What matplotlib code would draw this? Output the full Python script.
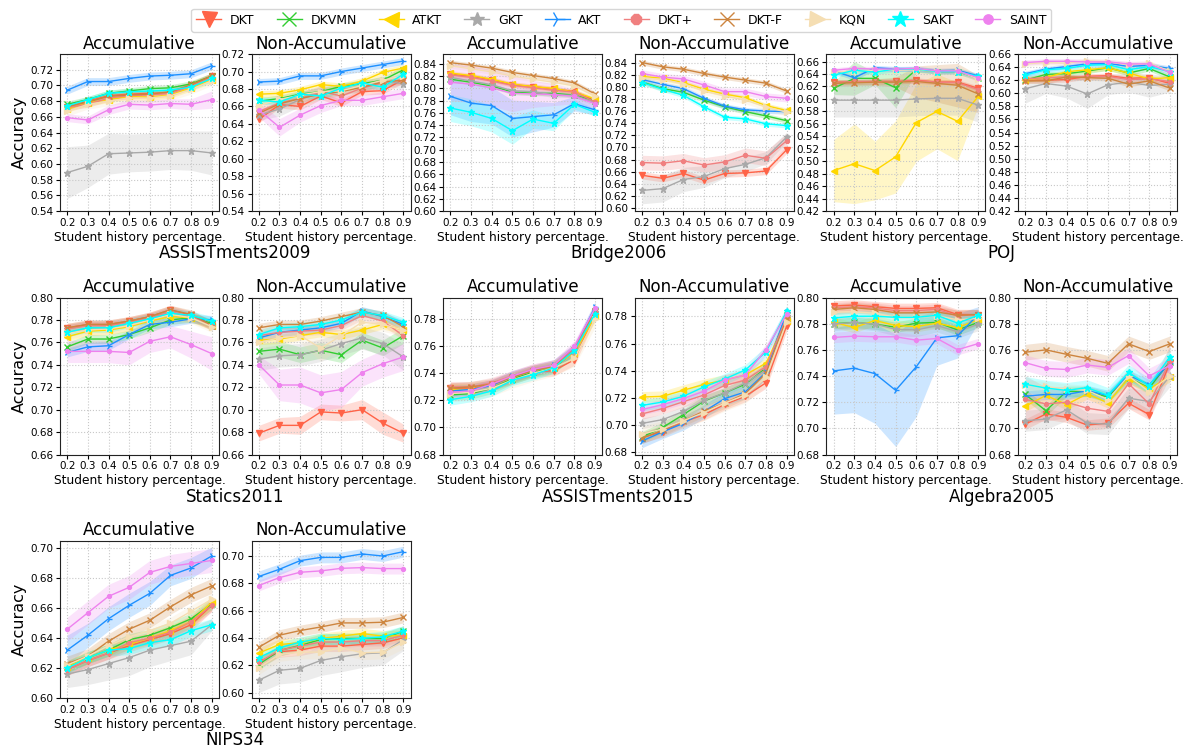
import matplotlib
matplotlib.use("Agg")
import numpy as np
import matplotlib.pyplot as plt

X = [0.2, 0.3, 0.4, 0.5, 0.6, 0.7, 0.8, 0.9]
MODELS = ["DKT", "DKVMN", "ATKT", "GKT", "AKT", "DKT+", "DKT-F", "KQN", "SAKT", "SAINT"]
COLORS = {
    "DKT": "tomato", "DKVMN": "limegreen", "ATKT": "gold", "GKT": "darkgray",
    "AKT": "dodgerblue", "DKT+": "lightcoral", "DKT-F": "peru", "KQN": "wheat",
    "SAKT": "cyan", "SAINT": "violet",
}
MARKERS = {
    "DKT": "v", "DKVMN": "x", "ATKT": "<", "GKT": "*", "AKT": "4",
    "DKT+": "8", "DKT-F": "x", "KQN": ">", "SAKT": "*", "SAINT": "o",
}
MSIZE = {
    "DKT": 4.5, "DKVMN": 4, "ATKT": 4.5, "GKT": 4.5, "AKT": 5,
    "DKT+": 3, "DKT-F": 4, "KQN": 4.5, "SAKT": 5, "SAINT": 2.8,
}

# ---- ASSISTments2009 ----
a09_acc = {
    "DKT":   [0.673, 0.680, 0.687, 0.689, 0.690, 0.691, 0.700, 0.712],
    "DKVMN": [0.676, 0.682, 0.690, 0.693, 0.696, 0.697, 0.702, 0.712],
    "ATKT":  [0.670, 0.678, 0.682, 0.686, 0.685, 0.688, 0.697, 0.707],
    "GKT":   [0.589, 0.597, 0.613, 0.614, 0.615, 0.617, 0.617, 0.614],
    "AKT":   [0.694, 0.705, 0.705, 0.709, 0.712, 0.713, 0.715, 0.725],
    "DKT+":  [0.672, 0.676, 0.684, 0.687, 0.688, 0.690, 0.699, 0.711],
    "DKT-F": [0.673, 0.679, 0.686, 0.688, 0.689, 0.692, 0.701, 0.712],
    "KQN":   [0.667, 0.676, 0.680, 0.684, 0.684, 0.687, 0.695, 0.706],
    "SAKT":  [0.674, 0.682, 0.690, 0.692, 0.693, 0.694, 0.698, 0.709],
    "SAINT": [0.659, 0.656, 0.669, 0.676, 0.675, 0.677, 0.676, 0.682],
}
a09_acc_std = {
    "GKT": [0.033, 0.027, 0.026, 0.024, 0.024, 0.024, 0.025, 0.028],
    "SAINT": [0.005, 0.005, 0.006, 0.006, 0.006, 0.006, 0.007, 0.011],
    "AKT": 0.005, "KQN": 0.006,
}
a09_non = {
    "DKT":   [0.645, 0.662, 0.660, 0.672, 0.664, 0.677, 0.678, 0.691],
    "DKVMN": [0.666, 0.669, 0.674, 0.677, 0.683, 0.686, 0.690, 0.702],
    "ATKT":  [0.674, 0.675, 0.679, 0.685, 0.683, 0.689, 0.699, 0.704],
    "GKT":   [0.650, 0.657, 0.668, 0.676, 0.679, 0.683, 0.689, 0.686],
    "AKT":   [0.688, 0.689, 0.695, 0.695, 0.700, 0.704, 0.708, 0.712],
    "DKT+":  [0.654, 0.664, 0.669, 0.677, 0.672, 0.681, 0.687, 0.691],
    "DKT-F": [0.652, 0.663, 0.669, 0.674, 0.677, 0.682, 0.688, 0.690],
    "KQN":   [0.661, 0.668, 0.673, 0.677, 0.678, 0.684, 0.690, 0.695],
    "SAKT":  [0.667, 0.665, 0.674, 0.672, 0.681, 0.687, 0.682, 0.697],
    "SAINT": [0.656, 0.636, 0.650, 0.661, 0.667, 0.667, 0.671, 0.675],
}
a09_non_std = {
    "SAINT": [0.008, 0.010, 0.008, 0.008, 0.006, 0.006, 0.006, 0.006],
    "GKT": [0.006, 0.008, 0.008, 0.008, 0.007, 0.006, 0.006, 0.006],
    "DKT+": 0.006,
}

# ---- Bridge2006 ----
bri_acc = {
    "DKT":   [0.823, 0.820, 0.814, 0.806, 0.803, 0.799, 0.795, 0.780],
    "DKVMN": [0.815, 0.810, 0.804, 0.794, 0.792, 0.792, 0.789, 0.780],
    "ATKT":  [0.825, 0.821, 0.815, 0.807, 0.803, 0.800, 0.794, 0.783],
    "GKT":   [0.818, 0.812, 0.806, 0.796, 0.795, 0.789, 0.789, 0.776],
    "AKT":   [0.787, 0.776, 0.772, 0.751, 0.754, 0.757, 0.775, 0.765],
    "DKT+":  [0.822, 0.818, 0.812, 0.805, 0.801, 0.797, 0.794, 0.778],
    "DKT-F": [0.842, 0.838, 0.833, 0.826, 0.821, 0.816, 0.809, 0.791],
    "KQN":   [0.837, 0.832, 0.827, 0.820, 0.815, 0.810, 0.804, 0.787],
    "SAKT":  [0.768, 0.761, 0.751, 0.731, 0.750, 0.743, 0.774, 0.761],
    "SAINT": [0.810, 0.807, 0.801, 0.792, 0.791, 0.790, 0.787, 0.775],
}
bri_acc_std = {
    "SAINT": [0.030, 0.030, 0.030, 0.030, 0.022, 0.018, 0.012, 0.008],
    "AKT": [0.030, 0.030, 0.030, 0.030, 0.025, 0.020, 0.012, 0.008],
    "SAKT": [0.022, 0.022, 0.022, 0.022, 0.015, 0.012, 0.008, 0.006],
}
bri_non = {
    "DKT":   [0.654, 0.649, 0.657, 0.646, 0.657, 0.658, 0.661, 0.696],
    "DKVMN": [0.808, 0.797, 0.791, 0.778, 0.767, 0.759, 0.752, 0.744],
    "ATKT":  [0.817, 0.814, 0.807, 0.796, 0.788, 0.782, 0.769, 0.761],
    "GKT":   [0.629, 0.632, 0.647, 0.652, 0.665, 0.672, 0.683, 0.717],
    "AKT":   [0.812, 0.804, 0.797, 0.781, 0.768, 0.762, 0.760, 0.759],
    "DKT+":  [0.675, 0.674, 0.678, 0.671, 0.676, 0.687, 0.682, 0.711],
    "DKT-F": [0.840, 0.833, 0.829, 0.822, 0.816, 0.811, 0.806, 0.793],
    "KQN":   [0.815, 0.812, 0.805, 0.793, 0.785, 0.778, 0.767, 0.758],
    "SAKT":  [0.807, 0.796, 0.786, 0.767, 0.750, 0.747, 0.739, 0.736],
    "SAINT": [0.822, 0.816, 0.813, 0.803, 0.792, 0.792, 0.784, 0.781],
}
bri_non_std = {
    "DKT+": 0.012, "DKT": 0.006, "KQN": 0.006, "SAINT": 0.006,
    "GKT": [0.022, 0.022, 0.020, 0.018, 0.015, 0.012, 0.010, 0.008],
}

# ---- POJ ----
poj_acc = {
    "DKT":   [0.627, 0.627, 0.628, 0.628, 0.630, 0.627, 0.627, 0.617],
    "DKVMN": [0.617, 0.633, 0.633, 0.618, 0.647, 0.644, 0.644, 0.633],
    "ATKT":  [0.485, 0.496, 0.485, 0.507, 0.562, 0.580, 0.564, 0.604],
    "GKT":   [0.598, 0.598, 0.598, 0.598, 0.600, 0.601, 0.601, 0.590],
    "AKT":   [0.645, 0.634, 0.650, 0.648, 0.648, 0.645, 0.646, 0.637],
    "DKT+":  [0.626, 0.628, 0.628, 0.628, 0.629, 0.627, 0.626, 0.615],
    "DKT-F": [0.625, 0.626, 0.627, 0.627, 0.628, 0.625, 0.622, 0.608],
    "KQN":   [0.643, 0.645, 0.646, 0.646, 0.647, 0.644, 0.645, 0.632],
    "SAKT":  [0.638, 0.646, 0.643, 0.648, 0.648, 0.644, 0.644, 0.636],
    "SAINT": [0.646, 0.649, 0.648, 0.648, 0.649, 0.645, 0.645, 0.634],
}
poj_acc_std = {
    "ATKT": [0.050, 0.064, 0.047, 0.058, 0.062, 0.060, 0.063, 0.015],
    "GKT": 0.027,
    "DKVMN": [0.010, 0.027, 0.010, 0.032, 0.004, 0.004, 0.004, 0.004],
    "DKT-F": [0.005, 0.005, 0.005, 0.008, 0.025, 0.030, 0.035, 0.030],
}
poj_non = {
    "DKT":   [0.620, 0.620, 0.621, 0.626, 0.627, 0.623, 0.624, 0.615],
    "DKVMN": [0.620, 0.629, 0.630, 0.634, 0.639, 0.631, 0.638, 0.625],
    "ATKT":  [0.621, 0.624, 0.633, 0.636, 0.639, 0.631, 0.622, 0.624],
    "GKT":   [0.607, 0.615, 0.611, 0.599, 0.613, 0.617, 0.612, 0.614],
    "AKT":   [0.630, 0.637, 0.641, 0.645, 0.646, 0.641, 0.643, 0.638],
    "DKT+":  [0.622, 0.624, 0.625, 0.625, 0.626, 0.621, 0.622, 0.618],
    "DKT-F": [0.619, 0.619, 0.625, 0.624, 0.623, 0.614, 0.619, 0.608],
    "KQN":   [0.645, 0.647, 0.646, 0.650, 0.648, 0.644, 0.646, 0.634],
    "SAKT":  [0.628, 0.636, 0.638, 0.643, 0.644, 0.636, 0.641, 0.633],
    "SAINT": [0.647, 0.649, 0.649, 0.648, 0.648, 0.645, 0.645, 0.632],
}
poj_non_std = {
    "GKT": [0.022, 0.015, 0.018, 0.022, 0.015, 0.015, 0.018, 0.012],
}

# ---- Statics2011 ----
sta_acc = {
    "DKT":   [0.773, 0.776, 0.776, 0.779, 0.783, 0.789, 0.784, 0.776],
    "DKVMN": [0.756, 0.763, 0.763, 0.767, 0.773, 0.780, 0.782, 0.777],
    "ATKT":  [0.765, 0.770, 0.771, 0.774, 0.779, 0.783, 0.782, 0.775],
    "GKT":   [0.772, 0.775, 0.775, 0.778, 0.782, 0.788, 0.783, 0.775],
    "AKT":   [0.751, 0.756, 0.757, 0.767, 0.776, 0.778, 0.781, 0.780],
    "DKT+":  [0.772, 0.775, 0.775, 0.778, 0.782, 0.787, 0.783, 0.775],
    "DKT-F": [0.773, 0.776, 0.776, 0.779, 0.783, 0.789, 0.785, 0.775],
    "KQN":   [0.768, 0.771, 0.772, 0.775, 0.780, 0.785, 0.782, 0.774],
    "SAKT":  [0.769, 0.773, 0.773, 0.777, 0.781, 0.786, 0.784, 0.779],
    "SAINT": [0.752, 0.752, 0.752, 0.751, 0.761, 0.765, 0.758, 0.750],
}
sta_acc_std = {
    "SAINT": [0.010, 0.010, 0.010, 0.011, 0.010, 0.010, 0.012, 0.015],
    "KQN": 0.005,
}
sta_non = {
    "DKT":   [0.679, 0.686, 0.686, 0.698, 0.697, 0.700, 0.688, 0.679],
    "DKVMN": [0.752, 0.754, 0.749, 0.753, 0.749, 0.762, 0.755, 0.766],
    "ATKT":  [0.762, 0.763, 0.766, 0.769, 0.767, 0.771, 0.776, 0.771],
    "GKT":   [0.745, 0.748, 0.749, 0.753, 0.759, 0.764, 0.759, 0.747],
    "AKT":   [0.764, 0.769, 0.771, 0.773, 0.777, 0.788, 0.783, 0.776],
    "DKT+":  [0.766, 0.769, 0.770, 0.771, 0.775, 0.784, 0.779, 0.766],
    "DKT-F": [0.773, 0.776, 0.776, 0.779, 0.783, 0.787, 0.784, 0.774],
    "KQN":   [0.760, 0.764, 0.766, 0.755, 0.766, 0.778, 0.776, 0.771],
    "SAKT":  [0.767, 0.773, 0.774, 0.776, 0.780, 0.787, 0.784, 0.778],
    "SAINT": [0.740, 0.722, 0.722, 0.715, 0.718, 0.733, 0.741, 0.747],
}
sta_non_std = {
    "SAINT": [0.008, 0.014, 0.016, 0.016, 0.016, 0.012, 0.012, 0.012],
    "DKT": [0.007, 0.007, 0.008, 0.007, 0.007, 0.009, 0.010, 0.008],
    "GKT": [0.010, 0.010, 0.010, 0.010, 0.010, 0.010, 0.010, 0.012],
    "DKVMN": 0.007,
    "KQN": [0.006, 0.006, 0.006, 0.012, 0.010, 0.008, 0.006, 0.006],
}

# ---- ASSISTments2015 ----
a15_acc = {
    "DKT":   [0.729, 0.729, 0.731, 0.736, 0.741, 0.742, 0.750, 0.784],
    "DKVMN": [0.724, 0.725, 0.729, 0.736, 0.741, 0.744, 0.756, 0.786],
    "ATKT":  [0.728, 0.728, 0.731, 0.737, 0.742, 0.745, 0.755, 0.782],
    "GKT":   [0.727, 0.728, 0.731, 0.737, 0.742, 0.745, 0.756, 0.785],
    "AKT":   [0.727, 0.728, 0.731, 0.738, 0.742, 0.746, 0.758, 0.789],
    "DKT+":  [0.730, 0.730, 0.733, 0.738, 0.743, 0.746, 0.758, 0.786],
    "DKT-F": [0.729, 0.730, 0.732, 0.737, 0.742, 0.745, 0.757, 0.786],
    "KQN":   [0.725, 0.726, 0.729, 0.735, 0.740, 0.744, 0.751, 0.780],
    "SAKT":  [0.7205, 0.723, 0.727, 0.735, 0.739, 0.744, 0.757, 0.784],
    "SAINT": [0.726, 0.727, 0.732, 0.738, 0.743, 0.746, 0.760, 0.788],
}
a15_acc_std = {"KQN": 0.006}
a15_non = {
    "DKT":   [0.6905, 0.695, 0.702, 0.7075, 0.715, 0.721, 0.731, 0.773],
    "DKVMN": [0.691, 0.698, 0.7075, 0.7175, 0.7235, 0.730, 0.742, 0.781],
    "ATKT":  [0.7205, 0.721, 0.7255, 0.7298, 0.733, 0.7368, 0.7455, 0.7768],
    "GKT":   [0.701, 0.7038, 0.7098, 0.718, 0.7235, 0.731, 0.7405, 0.7805],
    "AKT":   [0.688, 0.6948, 0.701, 0.7098, 0.7193, 0.7243, 0.7388, 0.783],
    "DKT+":  [0.708, 0.712, 0.717, 0.722, 0.729, 0.733, 0.743, 0.779],
    "DKT-F": [0.690, 0.696, 0.703, 0.710, 0.716, 0.723, 0.738, 0.778],
    "KQN":   [0.693, 0.697, 0.703, 0.709, 0.716, 0.722, 0.735, 0.776],
    "SAKT":  [0.7143, 0.7168, 0.721, 0.728, 0.7338, 0.7405, 0.7538, 0.7838],
    "SAINT": [0.7113, 0.7148, 0.7193, 0.7248, 0.733, 0.7368, 0.7555, 0.7818],
}
a15_non_std = {"AKT": 0.005, "KQN": 0.006}

# ---- Algebra2005 ----
alg_acc = {
    "DKT":   [0.7935, 0.7943, 0.793, 0.7917, 0.7917, 0.7922, 0.787, 0.787],
    "DKVMN": [0.780, 0.781, 0.7797, 0.7773, 0.7804, 0.781, 0.7752, 0.781],
    "ATKT":  [0.781, 0.7771, 0.7825, 0.7786, 0.7778, 0.7804, 0.7771, 0.783],
    "GKT":   [0.7797, 0.781, 0.7797, 0.7757, 0.7752, 0.7786, 0.7739, 0.7797],
    "AKT":   [0.7439, 0.746, 0.7418, 0.7291, 0.7471, 0.7692, 0.7708, 0.787],
    "DKT+":  [0.792, 0.793, 0.792, 0.790, 0.790, 0.791, 0.786, 0.787],
    "DKT-F": [0.7909, 0.7922, 0.7909, 0.7883, 0.7883, 0.789, 0.7864, 0.787],
    "KQN":   [0.789, 0.789, 0.788, 0.785, 0.785, 0.786, 0.783, 0.784],
    "SAKT":  [0.7844, 0.7857, 0.7857, 0.7849, 0.7849, 0.7864, 0.7804, 0.7864],
    "SAINT": [0.7695, 0.7705, 0.770, 0.770, 0.7674, 0.7687, 0.7601, 0.7648],
}
alg_acc_std = {
    "AKT": [0.033, 0.034, 0.038, 0.043, 0.038, 0.021, 0.017, 0.006],
    "GKT": 0.005,
}
alg_non = {
    "DKT":   [0.7032, 0.711, 0.7084, 0.7025, 0.704, 0.7192, 0.7105, 0.750],
    "DKVMN": [0.7259, 0.7135, 0.7283, 0.7283, 0.7239, 0.7388, 0.7308, 0.751],
    "ATKT":  [0.7169, 0.7252, 0.7182, 0.7264, 0.7195, 0.7381, 0.7303, 0.7394],
    "GKT":   [0.7058, 0.7071, 0.7141, 0.704, 0.7032, 0.7231, 0.7205, 0.7399],
    "AKT":   [0.7246, 0.7259, 0.7259, 0.7288, 0.7252, 0.7406, 0.7334, 0.7497],
    "DKT+":  [0.7221, 0.7187, 0.720, 0.7154, 0.713, 0.7342, 0.7187, 0.7515],
    "DKT-F": [0.7582, 0.760, 0.7566, 0.7535, 0.7497, 0.7646, 0.7587, 0.7646],
    "KQN":   [0.733, 0.732, 0.730, 0.729, 0.722, 0.740, 0.728, 0.740],
    "SAKT":  [0.7337, 0.7308, 0.729, 0.7311, 0.7252, 0.7427, 0.7324, 0.7548],
    "SAINT": [0.7502, 0.7458, 0.745, 0.7484, 0.7466, 0.7556, 0.7401, 0.748],
}
alg_non_std = {
    "DKT+": [0.018, 0.013, 0.012, 0.012, 0.012, 0.012, 0.012, 0.012],
    "DKT-F": 0.006, "SAINT": 0.006, "SAKT": 0.006, "GKT": 0.008,
}

# ---- NIPS34 ----
nips_acc = {
    "DKT":   [0.619, 0.625, 0.630, 0.635, 0.639, 0.643, 0.649, 0.662],
    "DKVMN": [0.621, 0.627, 0.632, 0.639, 0.642, 0.647, 0.653, 0.663],
    "ATKT":  [0.621, 0.627, 0.632, 0.636, 0.640, 0.645, 0.651, 0.664],
    "GKT":   [0.616, 0.619, 0.623, 0.627, 0.632, 0.635, 0.638, 0.649],
    "AKT":   [0.632, 0.642, 0.653, 0.662, 0.670, 0.682, 0.687, 0.695],
    "DKT+":  [0.619, 0.625, 0.630, 0.637, 0.640, 0.644, 0.651, 0.662],
    "DKT-F": [0.623, 0.628, 0.638, 0.646, 0.652, 0.661, 0.669, 0.675],
    "KQN":   [0.622, 0.628, 0.635, 0.641, 0.645, 0.650, 0.658, 0.666],
    "SAKT":  [0.620, 0.627, 0.632, 0.633, 0.637, 0.639, 0.645, 0.649],
    "SAINT": [0.646, 0.657, 0.668, 0.674, 0.684, 0.688, 0.690, 0.692],
}
nips_acc_std = {
    "SAINT": 0.008, "DKT-F": 0.005,
    "AKT": [0.010, 0.008, 0.008, 0.008, 0.008, 0.007, 0.007, 0.006],
    "GKT": [0.009, 0.010, 0.011, 0.012, 0.011, 0.010, 0.009, 0.004],
}
nips_non = {
    "DKT":   [0.6223, 0.6299, 0.6311, 0.634, 0.634, 0.6352, 0.6364, 0.640],
    "DKVMN": [0.6206, 0.6308, 0.6345, 0.6388, 0.6396, 0.6396, 0.6396, 0.6449],
    "ATKT":  [0.6289, 0.6352, 0.6364, 0.6396, 0.6413, 0.6432, 0.6413, 0.6417],
    "GKT":   [0.609, 0.6163, 0.6177, 0.6235, 0.6262, 0.6284, 0.6291, 0.6388],
    "AKT":   [0.685, 0.6903, 0.6966, 0.699, 0.699, 0.7015, 0.700, 0.7032],
    "DKT+":  [0.622, 0.631, 0.634, 0.637, 0.637, 0.638, 0.638, 0.642],
    "DKT-F": [0.6332, 0.642, 0.6454, 0.648, 0.651, 0.651, 0.6515, 0.655],
    "KQN":   [0.6182, 0.6279, 0.6296, 0.6296, 0.6328, 0.6291, 0.6296, 0.637],
    "SAKT":  [0.6255, 0.6328, 0.6369, 0.6396, 0.6388, 0.6396, 0.6408, 0.6449],
    "SAINT": [0.6784, 0.6842, 0.6881, 0.6891, 0.691, 0.6915, 0.6908, 0.6908],
}
nips_non_std = {
    "GKT": [0.009, 0.010, 0.010, 0.011, 0.011, 0.010, 0.009, 0.008],
    "KQN": 0.005,
}

DEFAULT_STD = 0.004

# (row, col, dataset, data, std, ylim, first ytick, last ytick)
PANELS = [
    (0, 0, "ASSISTments2009", a09_acc, a09_acc_std, (0.54, 0.74), 0.54, 0.72),
    (0, 1, "ASSISTments2009", a09_non, a09_non_std, (0.54, 0.72), 0.54, 0.72),
    (0, 2, "Bridge2006", bri_acc, bri_acc_std, (0.60, 0.856), 0.60, 0.84),
    (0, 3, "Bridge2006", bri_non, bri_non_std, (0.595, 0.854), 0.60, 0.84),
    (0, 4, "POJ", poj_acc, poj_acc_std, (0.42, 0.672), 0.42, 0.66),
    (0, 5, "POJ", poj_non, poj_non_std, (0.42, 0.66), 0.42, 0.66),
    (1, 0, "Statics2011", sta_acc, sta_acc_std, (0.66, 0.80), 0.66, 0.80),
    (1, 1, "Statics2011", sta_non, sta_non_std, (0.66, 0.80), 0.66, 0.80),
    (1, 2, "ASSISTments2015", a15_acc, a15_acc_std, (0.68, 0.796), 0.68, 0.78),
    (1, 3, "ASSISTments2015", a15_non, a15_non_std, (0.678, 0.794), 0.68, 0.78),
    (1, 4, "Algebra2005", alg_acc, alg_acc_std, (0.68, 0.80), 0.68, 0.80),
    (1, 5, "Algebra2005", alg_non, alg_non_std, (0.68, 0.80), 0.68, 0.80),
    (2, 0, "NIPS34", nips_acc, nips_acc_std, (0.60, 0.705), 0.60, 0.70),
    (2, 1, "NIPS34", nips_non, nips_non_std, (0.596, 0.711), 0.60, 0.70),
]


def get_std(std, name):
    s = std.get(name, DEFAULT_STD)
    return np.full(len(X), s) if np.isscalar(s) else np.asarray(s)


fig = plt.figure(figsize=(11.95, 7.51), dpi=100)
gs = fig.add_gridspec(3, 6, left=0.0502, right=0.985, top=0.928, bottom=0.0706,
                      wspace=0.205, hspace=0.551)

handles = []
for row, col, dataset, data, std, ylim, y0, y1 in PANELS:
    ax = fig.add_subplot(gs[row, col])
    for name in MODELS:
        mean = np.asarray(data[name])
        s = get_std(std, name)
        ax.fill_between(X, mean - s, mean + s, color=COLORS[name], alpha=0.22,
                        linewidth=0)
        ln, = ax.plot(X, mean, color=COLORS[name], marker=MARKERS[name],
                      markersize=MSIZE[name], linewidth=1.0, label=name)
        if row == 0 and col == 0:
            handles.append(ln)
    ax.set_ylim(*ylim)
    ax.set_yticks(np.arange(y0, y1 + 0.001, 0.02))
    ax.yaxis.set_major_formatter(plt.FormatStrFormatter("%.2f"))
    ax.set_xticks(X)
    ax.set_xticklabels(["%.1f" % v for v in X])
    ax.tick_params(labelsize=7.5, length=3, pad=2)
    ax.grid(True, linestyle=":", color="#c8c8c8", linewidth=0.8)
    ax.set_xlabel("Student history percentage.", fontsize=8.8, labelpad=2)
    ax.set_title("Accumulative" if col % 2 == 0 else "Non-Accumulative",
                 fontsize=12, pad=4)
    for sp in ax.spines.values():
        sp.set_color("#222222")
    if col == 0:
        ax.set_ylabel("Accuracy", fontsize=11.5, labelpad=2)
    if col % 2 == 1:
        left = gs[row, col - 1].get_position(fig)
        right = gs[row, col].get_position(fig)
        xc = (left.x0 + right.x1) / 2
        fig.text(xc, right.y0 - 42 / 751, dataset, ha="center", va="center",
                 fontsize=12)

fig.legend(handles=handles, loc="upper center", bbox_to_anchor=(0.52, 0.997),
           ncol=10, fontsize=9, markerscale=2.4, handlelength=2.0,
           columnspacing=1.75, handletextpad=0.7, borderpad=0.4, frameon=True)

fig.savefig("out.png", dpi=100)
